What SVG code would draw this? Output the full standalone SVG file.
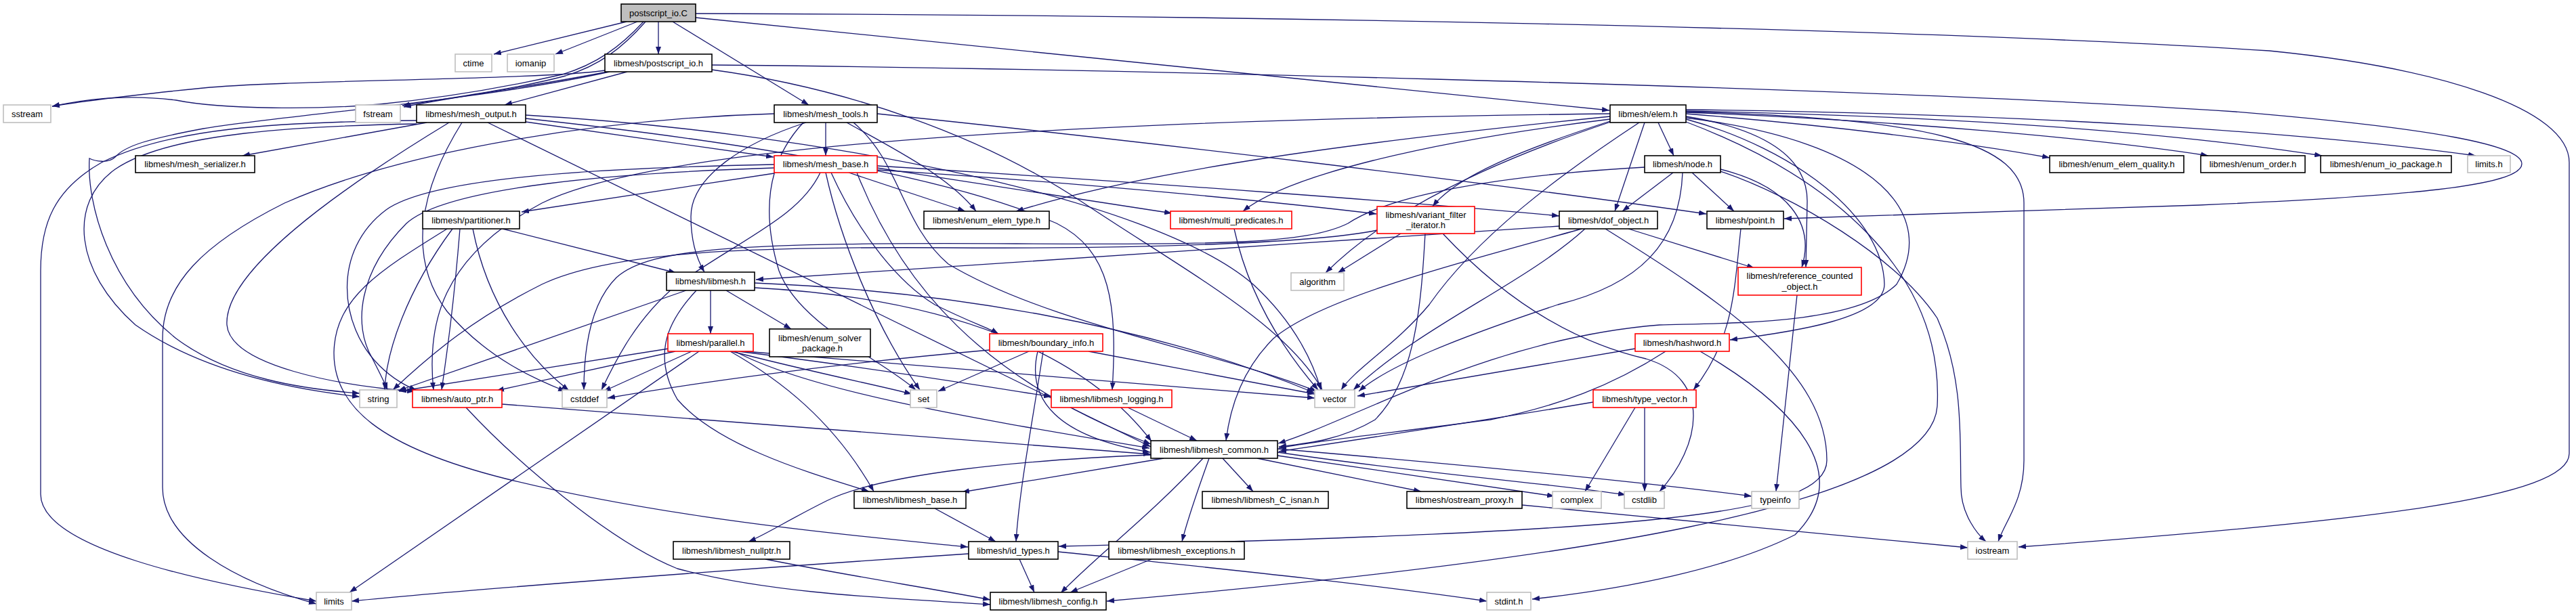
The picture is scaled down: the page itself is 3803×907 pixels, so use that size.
<svg xmlns="http://www.w3.org/2000/svg" width="3803" height="907" viewBox="0 0 3803 907">
<style>
.e{fill:none;stroke:#191970;stroke-width:1.3;marker-end:url(#a)}
.n rect{fill:#fff;stroke:#000;stroke-width:1.6}
.r rect{fill:#fff;stroke:#ff0000;stroke-width:1.6}
.g rect{fill:#fff;stroke:#bfbfbf;stroke-width:1.6}
.root rect{fill:#bfbfbf;stroke:#000;stroke-width:1.6}
text{font-family:"Liberation Sans",Arial,sans-serif;font-size:13px;fill:#000;text-anchor:middle}
</style>
<defs>
<marker id="a" viewBox="0 0 11 8" refX="11" refY="4" markerWidth="11" markerHeight="8" markerUnits="userSpaceOnUse" orient="auto" preserveAspectRatio="none"><path d="M0,0 L11,4 L0,8 z" fill="#191970"/></marker>
</defs>
<rect width="3803" height="907" fill="#fff"/>
<g id="connectors">
<path class="e" d="M925,32 L729,80"/>
<path class="e" d="M941,32 L820,80"/>
<path class="e" d="M972,32 L972,80"/>
<path class="e" d="M950,32 C915,70 880,95 830,110 C720,135 620,148 560,154 C470,162 330,162 260,148 C180,138 120,148 77,157"/>
<path class="e" d="M953,32 C918,72 884,97 835,112 C760,132 650,147 594,156"/>
<path class="e" d="M993,32 L1194,155"/>
<path class="e" d="M1027,26 L2376,163"/>
<path class="e" d="M1027,20 C1800,22 2800,40 3350,75 C3600,100 3793,160 3793,240 L3793,670 C3793,735 3500,770 2980,808"/>
<path class="e" d="M893,104 C800,118 420,118 300,130 C200,140 130,148 77,157"/>
<path class="e" d="M897,106 C800,125 690,140 596,158"/>
<path class="e" d="M926,106 L745,155"/>
<path class="e" d="M1051,96 C1500,100 2700,125 3300,165 C3600,190 3723,215 3723,242 C3723,275 3550,290 3246,303 C3000,312 2800,318 2634,323"/>
<path class="e" d="M1051,103 C1250,130 1450,200 1600,300 C1750,400 1900,480 1952,576"/>
<path class="e" d="M900,106 C700,150 420,170 300,190 C220,205 185,215 170,232 C160,242 140,238 132,234 C128,300 160,420 260,500 C340,560 450,575 531,581"/>
<path class="e" d="M630,181 L358,230"/>
<path class="e" d="M776,180 L1142,232"/>
<path class="e" d="M615,178 C400,180 250,190 150,240 C80,280 60,330 60,400 L60,730 C60,810 300,860 467,888"/>
<path class="e" d="M615,183 C450,186 250,195 170,250 C100,300 110,400 200,480 C300,550 430,575 531,586"/>
<path class="e" d="M663,181 C500,280 330,400 335,480 C340,540 500,570 612,578"/>
<path class="e" d="M682,181 C620,280 600,380 660,460 C720,530 790,560 835,578"/>
<path class="e" d="M720,181 L1699,660"/>
<path class="e" d="M776,175 C1100,210 1400,260 1560,330 C1640,370 1650,450 1642,576"/>
<path class="e" d="M776,170 C1200,195 1700,290 1850,420 C1915,480 1940,540 1950,576"/>
<path class="e" d="M1219,181 L1219,230"/>
<path class="e" d="M1190,181 C1100,210 1020,260 1020,320 C1020,360 1030,385 1040,402"/>
<path class="e" d="M1250,181 C1320,220 1400,260 1441,312"/>
<path class="e" d="M1143,168 C900,175 600,220 420,300 C300,360 240,420 240,500 L240,720 C240,800 350,860 467,892"/>
<path class="e" d="M1295,168 C1700,210 2200,270 2519,316"/>
<path class="e" d="M1186,181 C1140,230 1120,300 1150,400 C1180,480 1300,530 1352,576"/>
<path class="e" d="M1260,181 C1330,240 1330,330 1400,390 C1550,480 1800,520 1944,578"/>
<path class="e" d="M1143,256 L770,313"/>
<path class="e" d="M1253,255 L1425,312"/>
<path class="e" d="M1295,248 L1730,315"/>
<path class="e" d="M1295,251 C1600,270 1900,300 2032,316"/>
<path class="e" d="M1295,245 C1700,270 2100,300 2302,319"/>
<path class="e" d="M1227,255 C1270,350 1330,420 1380,450 C1430,475 1460,485 1474,493"/>
<path class="e" d="M1219,255 C1240,350 1290,480 1358,576"/>
<path class="e" d="M1143,243 C900,248 640,260 570,310 C490,370 500,480 560,540 C580,560 600,570 615,577"/>
<path class="e" d="M1143,248 C920,255 660,275 600,330 C530,400 520,480 550,530 C560,550 568,565 572,576"/>
<path class="e" d="M1211,255 C1180,320 1100,350 1000,420 C940,470 910,530 888,576"/>
<path class="e" d="M1265,255 C1330,420 1450,560 1699,656"/>
<path class="e" d="M742,338 L998,403"/>
<path class="e" d="M679,338 C670,450 660,520 652,576"/>
<path class="e" d="M668,338 C600,430 570,520 568,576"/>
<path class="e" d="M698,338 C720,450 780,530 840,577"/>
<path class="e" d="M660,338 C560,400 495,440 493,520 C492,600 560,660 746,707 C1000,770 1300,795 1429,808"/>
<path class="e" d="M1049,429 L1049,493"/>
<path class="e" d="M1072,429 L1168,486"/>
<path class="e" d="M1013,429 L588,577"/>
<path class="e" d="M1028,429 C990,470 960,520 1000,590 C1060,660 1200,700 1283,726"/>
<path class="e" d="M1114,418 C1400,430 1700,480 1940,580"/>
<path class="e" d="M1114,425 C1400,440 1600,520 1700,652"/>
<path class="e" d="M987,515 L589,578"/>
<path class="e" d="M997,519 L733,577"/>
<path class="e" d="M1021,519 L891,578"/>
<path class="e" d="M1032,519 L516,875"/>
<path class="e" d="M1080,519 C1200,550 1300,570 1346,582"/>
<path class="e" d="M1090,519 C1300,545 1450,570 1552,586"/>
<path class="e" d="M1100,519 C1450,550 1750,570 1941,588"/>
<path class="e" d="M1085,519 C1200,580 1450,620 1697,662"/>
<path class="e" d="M1078,519 C1150,560 1230,620 1290,726"/>
<path class="e" d="M1519,519 L1385,578"/>
<path class="e" d="M1461,517 C1200,540 1000,570 897,588"/>
<path class="e" d="M1607,519 L1941,582"/>
<path class="e" d="M1540,519 C1525,620 1505,720 1500,800"/>
<path class="e" d="M1532,519 C1515,590 1560,645 1698,668"/>
<path class="e" d="M2448,181 L2471,230"/>
<path class="e" d="M2428,181 L2384,312"/>
<path class="e" d="M2380,178 C2250,220 2150,260 2115,305"/>
<path class="e" d="M2377,176 C2100,210 1900,260 1835,312"/>
<path class="e" d="M2377,172 C2000,210 1700,250 1500,312"/>
<path class="e" d="M2378,180 C2200,240 2050,310 1957,403"/>
<path class="e" d="M2489,168 C2700,185 2900,210 3026,233"/>
<path class="e" d="M2489,166 C2800,178 3100,205 3260,230"/>
<path class="e" d="M2489,164 C2900,172 3200,195 3428,230"/>
<path class="e" d="M2489,162 C3000,168 3400,195 3655,230"/>
<path class="e" d="M2489,165 C2850,175 2988,210 2988,300 L2988,680 C2988,740 2960,770 2950,800"/>
<path class="e" d="M2489,172 C2600,190 2670,230 2668,300 L2666,395"/>
<path class="e" d="M2489,176 C2650,220 2780,320 2782,420 C2782,470 2650,490 2554,502"/>
<path class="e" d="M2489,174 C2780,210 2860,320 2800,420 C2740,480 2550,477 2450,480 C2200,500 2000,620 1887,655"/>
<path class="e" d="M2420,181 C2300,260 2180,350 2110,450 C2060,510 2000,545 1980,576"/>
<path class="e" d="M2377,168 C1800,175 1000,200 800,300 C650,380 630,480 640,576"/>
<path class="e" d="M2489,180 C2700,260 2870,400 2860,600 C2850,750 2300,830 1634,888"/>
<path class="e" d="M2470,255 L2395,312"/>
<path class="e" d="M2498,255 L2560,312"/>
<path class="e" d="M2540,250 C2640,275 2680,330 2660,395"/>
<path class="e" d="M2540,253 C2650,290 2800,380 2860,470 C2900,560 2893,650 2895,720 C2895,760 2920,790 2932,800"/>
<path class="e" d="M2428,247 C2200,260 2050,290 1990,330 C1930,360 1800,362 1500,360 C1100,358 960,365 910,410 C870,450 862,520 862,576"/>
<path class="e" d="M2484,255 C2480,360 2420,420 2300,450 C2150,500 2050,540 2006,578"/>
<path class="e" d="M2404,338 L2590,396"/>
<path class="e" d="M2302,334 C1900,360 1400,395 1116,413"/>
<path class="e" d="M2340,338 C2250,420 2100,480 1998,576"/>
<path class="e" d="M2335,338 C2150,390 1950,440 1880,500 C1830,550 1815,610 1810,651"/>
<path class="e" d="M2370,338 C2550,450 2697,550 2697,680 C2697,760 2450,785 1563,807"/>
<path class="e" d="M2068,345 L1975,403"/>
<path class="e" d="M2104,345 C2098,450 2090,560 2030,620 C1980,650 1930,655 1888,660"/>
<path class="e" d="M2033,340 C1950,358 1700,368 1400,366 C1100,364 900,372 800,420 C700,470 640,520 580,576"/>
<path class="e" d="M2130,345 C2200,420 2300,500 2430,530 C2530,560 2510,660 2450,726"/>
<path class="e" d="M1822,338 C1840,420 1880,500 1946,576"/>
<path class="e" d="M2570,338 C2560,430 2560,500 2500,576"/>
<path class="e" d="M2653,436 L2622,726"/>
<path class="e" d="M2414,515 L2004,585"/>
<path class="e" d="M2459,519 C2380,570 2300,600 2200,620 C2050,640 1950,650 1888,662"/>
<path class="e" d="M2510,519 C2650,600 2740,700 2650,790 C2550,840 2400,870 2262,885"/>
<path class="e" d="M2352,594 C2200,620 2000,650 1888,667"/>
<path class="e" d="M2414,602 L2340,726"/>
<path class="e" d="M2428,602 L2428,726"/>
<path class="e" d="M1665,602 L1767,651"/>
<path class="e" d="M741,597 C1100,625 1450,650 1699,671"/>
<path class="e" d="M688,602 C760,680 900,800 1000,840 C1150,880 1350,885 1462,893"/>
<path class="e" d="M1718,677 L1420,727"/>
<path class="e" d="M1805,677 L1850,726"/>
<path class="e" d="M1856,677 L2098,726"/>
<path class="e" d="M1886,673 L2295,733"/>
<path class="e" d="M1886,668 C2100,700 2300,715 2400,731"/>
<path class="e" d="M1886,663 C2200,690 2450,715 2586,733"/>
<path class="e" d="M1776,677 C1700,760 1620,820 1566,876"/>
<path class="e" d="M1785,677 C1770,720 1755,760 1745,800"/>
<path class="e" d="M1699,672 C1500,680 1300,700 1220,740 C1160,770 1130,790 1105,800"/>
<path class="e" d="M1380,751 L1470,800"/>
<path class="e" d="M1505,826 L1527,875"/>
<path class="e" d="M1562,815 C1800,840 2000,860 2195,888"/>
<path class="e" d="M1430,818 C1100,840 700,870 519,888"/>
<path class="e" d="M1700,826 L1580,875"/>
<path class="e" d="M1130,826 C1250,850 1380,870 1462,886"/>
<path class="e" d="M2247,746 C2500,770 2750,795 2905,809"/>
</g>
<g id="n_postscript_io_C" class="root"><rect x="917" y="6" width="110" height="26"/><text x="972" y="23.5">postscript_io.C</text></g>
<g id="n_ctime" class="g"><rect x="672" y="80" width="54" height="26"/><text x="699" y="97.5">ctime</text></g>
<g id="n_iomanip" class="g"><rect x="749" y="80" width="69" height="26"/><text x="783.5" y="97.5">iomanip</text></g>
<g id="n_postscript_io_h" class="n"><rect x="893" y="80" width="158" height="26"/><text x="972" y="97.5">libmesh/postscript_io.h</text></g>
<g id="n_sstream" class="g"><rect x="5" y="155" width="70" height="26"/><text x="40" y="172.5">sstream</text></g>
<g id="n_fstream" class="g"><rect x="525" y="155" width="66" height="26"/><text x="558" y="172.5">fstream</text></g>
<g id="n_mesh_output" class="n"><rect x="615" y="155" width="161" height="26"/><text x="695.5" y="172.5">libmesh/mesh_output.h</text></g>
<g id="n_mesh_tools" class="n"><rect x="1143" y="155" width="152" height="26"/><text x="1219" y="172.5">libmesh/mesh_tools.h</text></g>
<g id="n_elem" class="n"><rect x="2377" y="155" width="112" height="26"/><text x="2433" y="172.5">libmesh/elem.h</text></g>
<g id="n_mesh_serializer" class="n"><rect x="200" y="230" width="176" height="25"/><text x="288" y="247">libmesh/mesh_serializer.h</text></g>
<g id="n_mesh_base" class="r"><rect x="1143" y="230" width="152" height="25"/><text x="1219" y="247">libmesh/mesh_base.h</text></g>
<g id="n_node" class="n"><rect x="2428" y="230" width="112" height="25"/><text x="2484" y="247">libmesh/node.h</text></g>
<g id="n_enum_elem_quality" class="n"><rect x="3026" y="230" width="198" height="25"/><text x="3125" y="247">libmesh/enum_elem_quality.h</text></g>
<g id="n_enum_order" class="n"><rect x="3249" y="230" width="154" height="25"/><text x="3326" y="247">libmesh/enum_order.h</text></g>
<g id="n_enum_io_package" class="n"><rect x="3426" y="230" width="193" height="25"/><text x="3522.5" y="247">libmesh/enum_io_package.h</text></g>
<g id="n_limits_h" class="g"><rect x="3643" y="230" width="63" height="25"/><text x="3674.5" y="247">limits.h</text></g>
<g id="n_partitioner" class="n"><rect x="624" y="312" width="143" height="26"/><text x="695.5" y="329.5">libmesh/partitioner.h</text></g>
<g id="n_enum_elem_type" class="n"><rect x="1364" y="312" width="185" height="26"/><text x="1456.5" y="329.5">libmesh/enum_elem_type.h</text></g>
<g id="n_multi_predicates" class="r"><rect x="1728" y="312" width="179" height="26"/><text x="1817.5" y="329.5">libmesh/multi_predicates.h</text></g>
<g id="n_variant_filter_iterator" class="r"><rect x="2033" y="305" width="144" height="40"/><text x="2105" y="321.5">libmesh/variant_filter</text><text x="2105" y="337">_iterator.h</text></g>
<g id="n_dof_object" class="n"><rect x="2302" y="312" width="145" height="26"/><text x="2374.5" y="329.5">libmesh/dof_object.h</text></g>
<g id="n_point" class="n"><rect x="2520" y="312" width="113" height="26"/><text x="2576.5" y="329.5">libmesh/point.h</text></g>
<g id="n_libmesh" class="n"><rect x="984" y="402" width="130" height="27"/><text x="1049" y="420">libmesh/libmesh.h</text></g>
<g id="n_algorithm" class="g"><rect x="1906" y="403" width="78" height="26"/><text x="1945" y="420.5">algorithm</text></g>
<g id="n_reference_counted_object" class="r"><rect x="2566" y="395" width="182" height="41"/><text x="2657" y="411.5">libmesh/reference_counted</text><text x="2657" y="427.5">_object.h</text></g>
<g id="n_parallel" class="r"><rect x="986" y="493" width="126" height="26"/><text x="1049" y="510.5">libmesh/parallel.h</text></g>
<g id="n_enum_solver_package" class="n"><rect x="1136" y="486" width="149" height="41"/><text x="1210.5" y="503.5">libmesh/enum_solver</text><text x="1210.5" y="518.5">_package.h</text></g>
<g id="n_boundary_info" class="r"><rect x="1461" y="493" width="167" height="26"/><text x="1544.5" y="510.5">libmesh/boundary_info.h</text></g>
<g id="n_hashword" class="r"><rect x="2414" y="493" width="139" height="26"/><text x="2483.5" y="510.5">libmesh/hashword.h</text></g>
<g id="n_string" class="g"><rect x="531" y="576" width="55" height="26"/><text x="558.5" y="593.5">string</text></g>
<g id="n_auto_ptr" class="r"><rect x="609" y="576" width="132" height="26"/><text x="675" y="593.5">libmesh/auto_ptr.h</text></g>
<g id="n_cstddef" class="g"><rect x="830" y="576" width="66" height="26"/><text x="863" y="593.5">cstddef</text></g>
<g id="n_set" class="g"><rect x="1344" y="576" width="39" height="26"/><text x="1363.5" y="593.5">set</text></g>
<g id="n_libmesh_logging" class="r"><rect x="1552" y="576" width="178" height="26"/><text x="1641" y="593.5">libmesh/libmesh_logging.h</text></g>
<g id="n_vector" class="g"><rect x="1941" y="576" width="59" height="26"/><text x="1970.5" y="593.5">vector</text></g>
<g id="n_type_vector" class="r"><rect x="2352" y="576" width="152" height="26"/><text x="2428" y="593.5">libmesh/type_vector.h</text></g>
<g id="n_libmesh_common" class="n"><rect x="1699" y="651" width="187" height="26"/><text x="1792.5" y="668.5">libmesh/libmesh_common.h</text></g>
<g id="n_libmesh_base" class="n"><rect x="1261" y="726" width="165" height="25"/><text x="1343.5" y="743">libmesh/libmesh_base.h</text></g>
<g id="n_libmesh_C_isnan" class="n"><rect x="1775" y="726" width="186" height="25"/><text x="1868" y="743">libmesh/libmesh_C_isnan.h</text></g>
<g id="n_ostream_proxy" class="n"><rect x="2077" y="726" width="170" height="25"/><text x="2162" y="743">libmesh/ostream_proxy.h</text></g>
<g id="n_complex" class="g"><rect x="2292" y="726" width="72" height="25"/><text x="2328" y="743">complex</text></g>
<g id="n_cstdlib" class="g"><rect x="2398" y="726" width="59" height="25"/><text x="2427.5" y="743">cstdlib</text></g>
<g id="n_typeinfo" class="g"><rect x="2586" y="726" width="70" height="25"/><text x="2621" y="743">typeinfo</text></g>
<g id="n_libmesh_nullptr" class="n"><rect x="994" y="800" width="172" height="26"/><text x="1080" y="817.5">libmesh/libmesh_nullptr.h</text></g>
<g id="n_id_types" class="n"><rect x="1430" y="800" width="132" height="26"/><text x="1496" y="817.5">libmesh/id_types.h</text></g>
<g id="n_libmesh_exceptions" class="n"><rect x="1637" y="800" width="200" height="26"/><text x="1737" y="817.5">libmesh/libmesh_exceptions.h</text></g>
<g id="n_iostream" class="g"><rect x="2905" y="800" width="73" height="26"/><text x="2941.5" y="817.5">iostream</text></g>
<g id="n_limits" class="g"><rect x="467" y="875" width="52" height="26"/><text x="493" y="892.5">limits</text></g>
<g id="n_libmesh_config" class="n"><rect x="1462" y="875" width="171" height="26"/><text x="1547.5" y="892.5">libmesh/libmesh_config.h</text></g>
<g id="n_stdint" class="g"><rect x="2195" y="875" width="65" height="26"/><text x="2227.5" y="892.5">stdint.h</text></g>
</svg>
